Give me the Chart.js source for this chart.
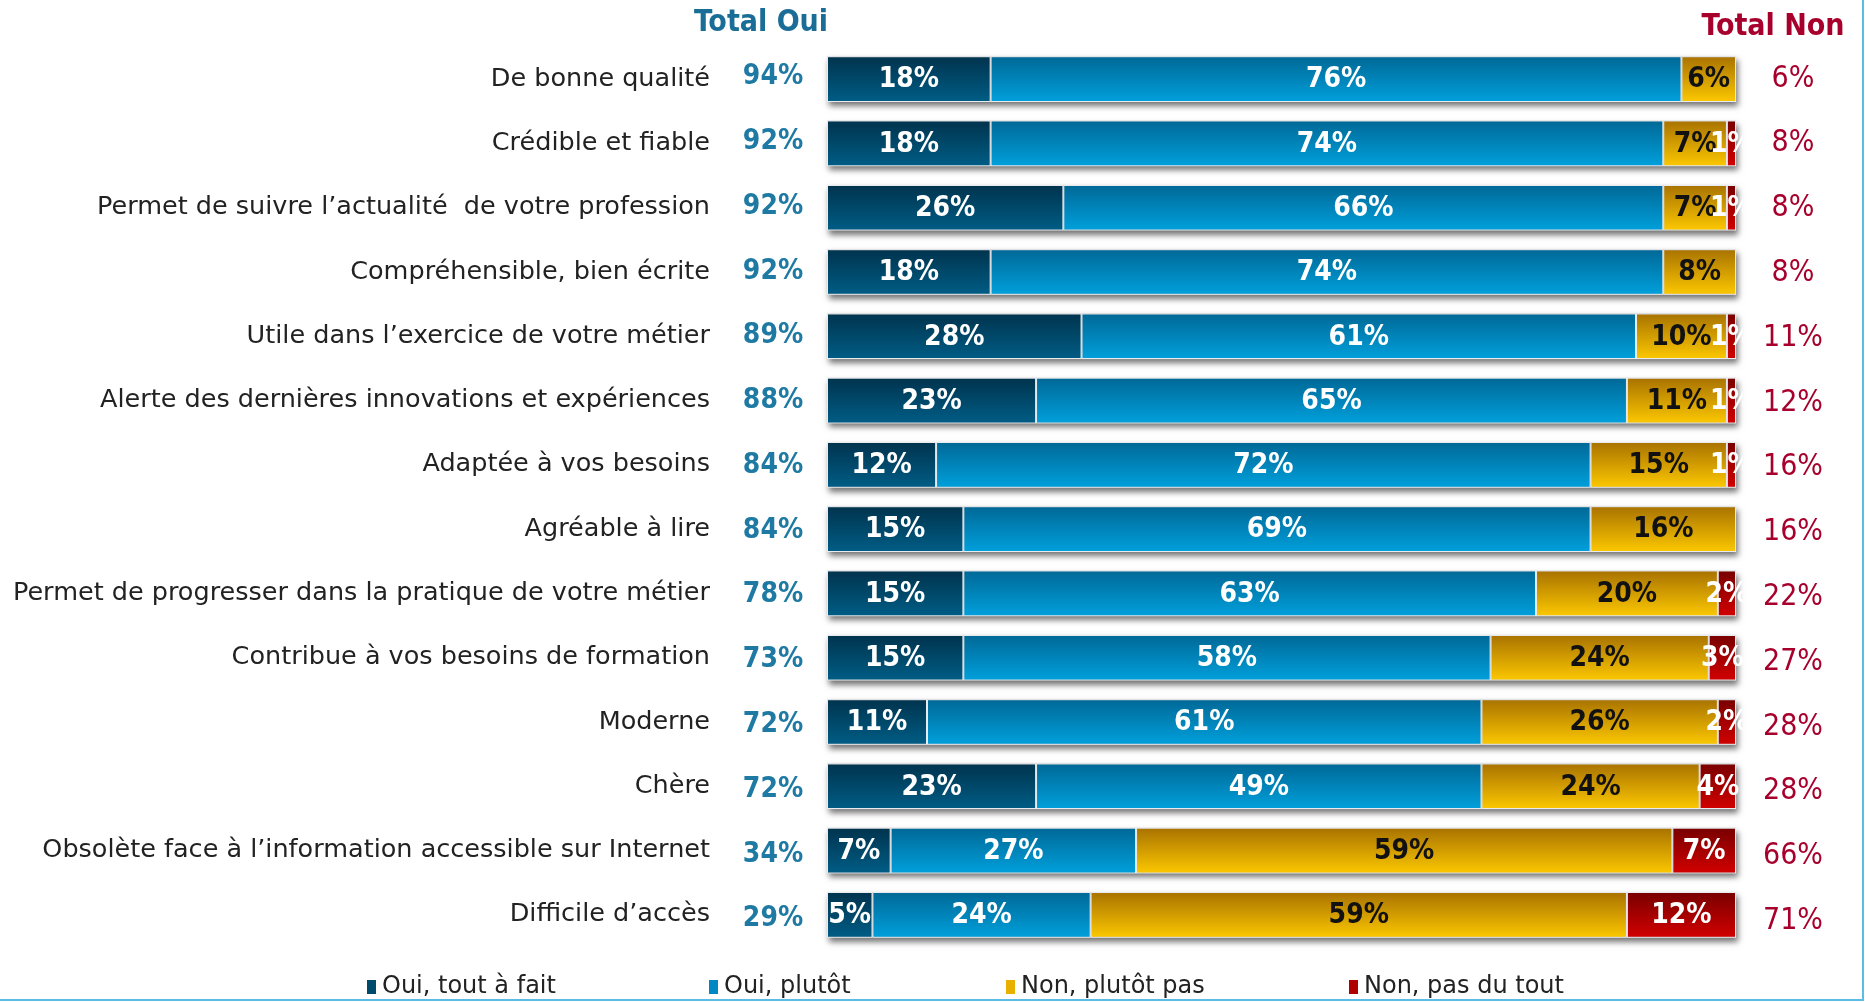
<!DOCTYPE html>
<html>
<head>
<meta charset="utf-8">
<script src="https://cdn.jsdelivr.net/npm/chart.js@4/dist/chart.umd.min.js"></script>
<style>
  html, body { margin: 0; padding: 0; background: #fff; }
  #wrap { width: 1865px; height: 1002px; position: relative; }
</style>
</head>
<body>
<div id="wrap"><canvas id="c" width="1865" height="1002"></canvas></div>
<script>
const categories = [
  "De bonne qualité",
  "Crédible et fiable",
  "Permet de suivre l’actualité  de votre profession",
  "Compréhensible, bien écrite",
  "Utile dans l’exercice de votre métier",
  "Alerte des dernières innovations et expériences",
  "Adaptée à vos besoins",
  "Agréable à lire",
  "Permet de progresser dans la pratique de votre métier",
  "Contribue à vos besoins de formation",
  "Moderne",
  "Chère",
  "Obsolète face à l’information accessible sur Internet",
  "Difficile d’accès"
];
const seriesNames = ["Oui, tout à fait", "Oui, plutôt", "Non, plutôt pas", "Non, pas du tout"];
const ouiToutAFait = [18, 18, 26, 18, 28, 23, 12, 15, 15, 15, 11, 23, 7, 5];
const ouiPlutot    = [76, 74, 66, 74, 61, 65, 72, 69, 63, 58, 61, 49, 27, 24];
const nonPlutotPas = [6, 7, 7, 8, 10, 11, 15, 16, 20, 24, 26, 24, 59, 59];
const nonPasDuTout = [0, 1, 1, 0, 1, 1, 1, 0, 2, 3, 2, 4, 7, 12];
const totalOui = [94, 92, 92, 92, 89, 88, 84, 84, 78, 73, 72, 72, 34, 29];
const totalNon = [6, 8, 8, 8, 11, 12, 16, 16, 22, 27, 28, 28, 66, 71];
const headerOui = "Total Oui";
const headerNon = "Total Non";

const FONT = "'DejaVu Sans Condensed', 'Liberation Sans Narrow', 'DejaVu Sans', sans-serif";
const FONT_WIDE = "'DejaVu Sans', 'Liberation Sans', sans-serif";
const BAR_PCT = 0.71;

// gradient stops: [top, bottom]
const gradStops = [
  ["#00334d", "#005d86"],
  ["#006896", "#00a0dc"],
  ["#a87200", "#fcc800"],
  ["#780000", "#d20000"]
];
const solid = ["#004a6b", "#0088c4", "#e8b000", "#b00000"];
const labelColors = ["#ffffff", "#ffffff", "#111111", "#ffffff"];

function barGradient(idx) {
  return function (ctx) {
    const chart = ctx.chart;
    const ys = chart.scales && chart.scales.y;
    if (!ys || ctx.dataIndex === undefined || !chart.chartArea) return solid[idx];
    const c = ys.getPixelForValue(ctx.dataIndex);
    const band = (ys.bottom - ys.top) / categories.length;
    const half = band * BAR_PCT / 2;
    const g = chart.ctx.createLinearGradient(0, c - half, 0, c + half);
    g.addColorStop(0, gradStops[idx][0]);
    g.addColorStop(1, gradStops[idx][1]);
    return g;
  };
}

const seriesData = [ouiToutAFait, ouiPlutot, nonPlutotPas, nonPasDuTout];

const shadowPlugin = {
  id: 'shadow',
  beforeDatasetsDraw(chart) {
    const ctx = chart.ctx;
    const ys = chart.scales.y, xs = chart.scales.x;
    const band = (ys.bottom - ys.top) / categories.length;
    const h = band * BAR_PCT;
    ctx.save();
    categories.forEach((_, i) => {
      const c = ys.getPixelForValue(i);
      const x0 = xs.getPixelForValue(0);
      const x1 = xs.getPixelForValue(100);
      ctx.shadowColor = 'rgba(0,0,0,0.55)';
      ctx.shadowBlur = 6;
      ctx.shadowOffsetX = 2;
      ctx.shadowOffsetY = 4;
      ctx.fillStyle = '#cccccc';
      ctx.fillRect(x0, c - h / 2, x1 - x0, h);
    });
    ctx.restore();
  }
};

const labelsPlugin = {
  id: 'segLabels',
  afterDatasetsDraw(chart) {
    const ctx = chart.ctx;
    const area = chart.chartArea;
    ctx.save();
    ctx.beginPath();
    ctx.rect(area.left, 0, area.right - area.left + 7, chart.height);
    ctx.clip();
    ctx.font = "bold 28px " + FONT;
    ctx.textAlign = 'center';
    ctx.textBaseline = 'middle';
    chart.data.datasets.forEach((ds, di) => {
      const meta = chart.getDatasetMeta(di);
      meta.data.forEach((el, i) => {
        const v = ds.data[i];
        if (!v) return;
        ctx.fillStyle = labelColors[di];
        ctx.fillText(v + "%", (el.x + el.base) / 2, el.y + 1);
      });
    });
    ctx.restore();

    // totals and headers
    const ys = chart.scales.y;
    ctx.save();
    ctx.textBaseline = 'middle';
    ctx.textAlign = 'center';
    categories.forEach((_, i) => {
      const c = ys.getPixelForValue(i);
      ctx.font = "bold 28px " + FONT;
      ctx.fillStyle = '#1f7aa3';
      ctx.fillText(totalOui[i] + "%", 773, c + 1 + (i - 6.5) * 0.5);
      ctx.font = "30px " + FONT;
      ctx.fillStyle = '#a8002c';
      ctx.fillText(totalNon[i] + "%", 1793, c + 3 + (i - 6.5) * 0.5);
    });
    ctx.font = "bold 30px " + FONT;
    ctx.fillStyle = '#1a6d96';
    ctx.fillText(headerOui, 761, 23);
    ctx.fillStyle = '#a8002c';
    ctx.fillText(headerNon, 1773, 27);
    ctx.restore();

    // legend
    const legendX = [367, 709, 1006, 1349];
    const ly = 987;
    ctx.save();
    ctx.font = "24px " + FONT_WIDE;
    ctx.textAlign = 'left';
    ctx.textBaseline = 'middle';
    seriesNames.forEach((n, i) => {
      ctx.fillStyle = solid[i];
      ctx.fillRect(legendX[i], ly - 7, 9, 14);
      ctx.fillStyle = '#222222';
      ctx.fillText(n, legendX[i] + 15, ly);
    });
    ctx.restore();

    // frame lines (right and bottom)
    ctx.save();
    ctx.strokeStyle = '#5bbde6';
    ctx.lineWidth = 2;
    ctx.beginPath();
    ctx.moveTo(1863, 0);
    ctx.lineTo(1863, 1000);
    ctx.lineTo(0, 1000);
    ctx.stroke();
    ctx.restore();
  }
};

new Chart(document.getElementById('c'), {
  type: 'bar',
  data: {
    labels: categories,
    datasets: seriesData.map((d, i) => ({
      label: seriesNames[i],
      data: d,
      backgroundColor: barGradient(i),
      borderColor: 'rgba(235,240,245,0.9)',
      borderWidth: 1,
      borderSkipped: false,
      barPercentage: BAR_PCT,
      categoryPercentage: 1
    }))
  },
  options: {
    indexAxis: 'y',
    responsive: false,
    animation: false,
    devicePixelRatio: 1,
    layout: { padding: { top: 47, bottom: 55, left: 0, right: 129 } },
    plugins: { legend: { display: false }, tooltip: { enabled: false } },
    scales: {
      x: { stacked: true, min: 0, max: 100, display: false },
      y: {
        stacked: true,
        grid: { display: false },
        border: { display: false },
        afterFit(scale) {
          scale.width = 827;
          scale.paddingTop = 0;
          scale.paddingBottom = 0;
        },
        ticks: {
          padding: 109,
          color: '#222222',
          font: { family: FONT_WIDE, size: 25.5 }
        }
      }
    }
  },
  plugins: [shadowPlugin, labelsPlugin]
});
</script>
</body>
</html>
